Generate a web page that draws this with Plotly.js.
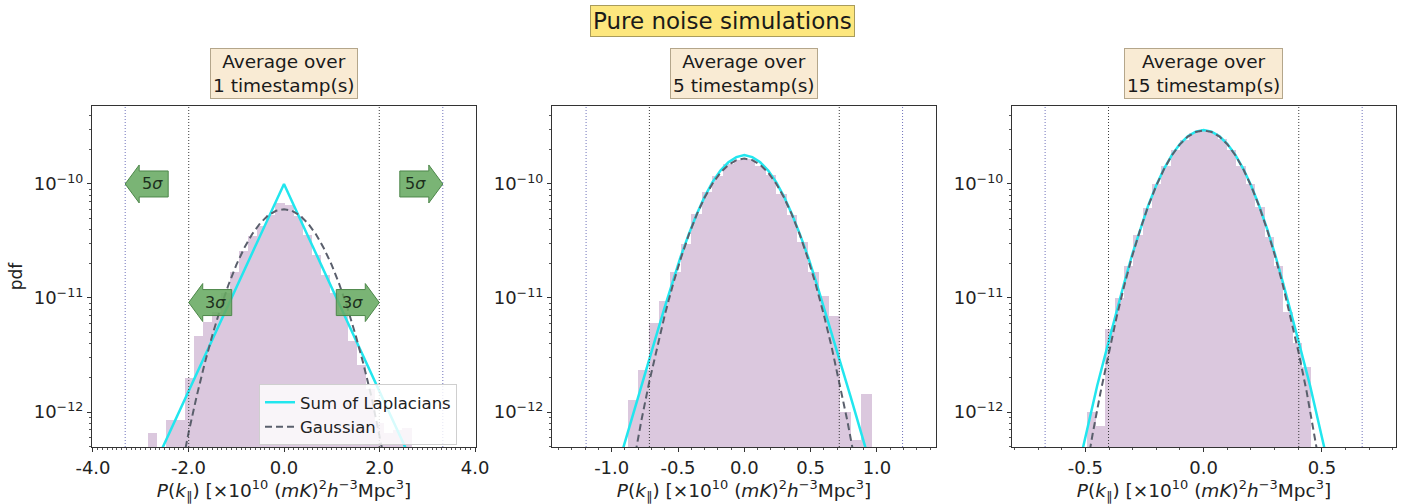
<!DOCTYPE html>
<html><head><meta charset="utf-8">
<script src="https://cdn.plot.ly/plotly-3.0.1.min.js"></script>
<style>html,body{margin:0;padding:0;background:#fff;}#chart{width:1404px;height:504px;}</style>
</head><body><div id="chart"></div>
<script>
// ---------- data ----------
const mainTitle = 'Pure noise simulations';
const panelTitles = ['Average over<br>1 timestamp(s)', 'Average over<br>5 timestamp(s)', 'Average over<br>15 timestamp(s)'];
const sigmas = [0.665, 0.2386, 0.134];          // Gaussian widths (3σ / 5σ markers)
const legendNames = ['Sum of Laplacians', 'Gaussian'];

// Panel 1 (1 timestamp)
const hist1X = [-2.745,-2.555,-2.365,-2.175,-1.985,-1.795,-1.605,-1.415,-1.225,-1.035,-0.845,-0.655,-0.465,-0.275,-0.085,0.105,0.295,0.485,0.675,0.865,1.055,1.245,1.435,1.625,1.815,2.005,2.195,2.385,2.575];
const hist1Y = [6.5e-13,null,8.5e-13,8.5e-13,2.0e-12,4.6e-12,6.2e-12,7.5e-12,1.1e-11,1.7e-11,2.6e-11,3.5e-11,4.3e-11,5.3e-11,6.8e-11,6.5e-11,5.2e-11,3.6e-11,2.4e-11,1.6e-11,1.1e-11,7.4e-12,4.2e-12,2.6e-12,1.6e-12,8.0e-13,6.5e-13,7.0e-13,7.3e-13];
const hist1W = 0.192;
const lap1X = [-2.9,-2.0,-1.0,-0.5,0,0.5,1.0,2.0,2.9];
const lap1Y = [2.3e-13,1.52e-12,1.23e-11,3.5e-11,1.0e-10,3.5e-11,1.23e-11,1.52e-12,2.3e-13];
const gau1X = [-2.328,-2.161,-1.995,-1.829,-1.663,-1.496,-1.33,-1.164,-0.998,-0.831,-0.665,-0.499,-0.333,-0.166,0,0.166,0.333,0.499,0.665,0.831,0.998,1.164,1.33,1.496,1.663,1.829,1.995,2.161,2.328];
const gau1Y = [1.31e-13,3.05e-13,6.67e-13,1.37e-12,2.64e-12,4.78e-12,8.12e-12,1.30e-11,1.95e-11,2.75e-11,3.64e-11,4.53e-11,5.30e-11,5.82e-11,6.0e-11,5.82e-11,5.30e-11,4.53e-11,3.64e-11,2.75e-11,1.95e-11,1.30e-11,8.12e-12,4.78e-12,2.64e-12,1.37e-12,6.67e-13,3.05e-13,1.31e-13];

// Panel 2 (5 timestamps)
const hist2X = [-0.84,-0.76,-0.68,-0.60,-0.52,-0.44,-0.36,-0.28,-0.20,-0.12,-0.04,0.04,0.12,0.20,0.28,0.36,0.44,0.52,0.60,0.68,0.76,0.84,0.92];
const hist2Y = [1.27e-12,2.33e-12,6.0e-12,9.5e-12,1.7e-11,3.0e-11,5.5e-11,8.5e-11,1.17e-10,1.5e-10,1.62e-10,1.64e-10,1.45e-10,1.2e-10,8.2e-11,5.3e-11,3.1e-11,1.7e-11,1.05e-11,7.0e-12,1.0e-12,5.7e-13,1.43e-12];
const hist2W = 0.081;
const lap2X = [-0.95,-0.90,-0.80,-0.72,-0.66,-0.60,-0.54,-0.48,-0.42,-0.36,-0.30,-0.24,-0.18,-0.12,-0.06,0,0.06,0.12,0.18,0.24,0.30,0.36,0.42,0.48,0.54,0.60,0.66,0.72,0.80,0.90,0.95];
const lap2Y = [3.46e-13,5.5e-13,1.38e-12,2.88e-12,4.85e-12,8.3e-12,1.4e-11,2.3e-11,3.6e-11,5.4e-11,7.7e-11,1.04e-10,1.31e-10,1.55e-10,1.72e-10,1.79e-10,1.72e-10,1.55e-10,1.31e-10,1.04e-10,7.7e-11,5.4e-11,3.6e-11,2.3e-11,1.4e-11,8.3e-12,4.85e-12,2.88e-12,1.38e-12,5.5e-13,3.46e-13];
const gau2X = [-0.8948,-0.8351,-0.7755,-0.7158,-0.6562,-0.5965,-0.5369,-0.4772,-0.4176,-0.3579,-0.2983,-0.2386,-0.179,-0.1193,-0.0597,0,0.0597,0.1193,0.179,0.2386,0.2983,0.3579,0.4176,0.4772,0.5369,0.5965,0.6562,0.7158,0.7755,0.8351,0.8948];
const gau2Y = [1.48e-13,3.65e-13,8.49e-13,1.86e-12,3.81e-12,7.34e-12,1.33e-11,2.26e-11,3.61e-11,5.42e-11,7.65e-11,1.013e-10,1.261e-10,1.474e-10,1.619e-10,1.67e-10,1.619e-10,1.474e-10,1.261e-10,1.013e-10,7.65e-11,5.42e-11,3.61e-11,2.26e-11,1.33e-11,7.34e-12,3.81e-12,1.86e-12,8.49e-13,3.65e-13,1.48e-13];

// Panel 3 (15 timestamps)
const hist3X = [-0.474,-0.435,-0.395,-0.356,-0.316,-0.277,-0.237,-0.198,-0.158,-0.119,-0.079,-0.040,0.000,0.039,0.079,0.118,0.158,0.197,0.237,0.276,0.316,0.355,0.395,0.434];
const hist3Y = [1.0e-12,7.5e-13,5.4e-12,1.0e-11,1.9e-11,3.6e-11,6.2e-11,1.0e-10,1.45e-10,2.0e-10,2.45e-10,2.8e-10,2.9e-10,2.8e-10,2.5e-10,2.0e-10,1.45e-10,1.0e-10,6.3e-11,3.4e-11,1.9e-11,7.5e-12,4.0e-12,2.5e-12];
const hist3W = 0.0412;
const lap3X = [-0.54,-0.50,-0.45,-0.402,-0.3685,-0.335,-0.3015,-0.268,-0.2345,-0.201,-0.1675,-0.134,-0.1005,-0.067,-0.0335,0,0.0335,0.067,0.1005,0.134,0.1675,0.201,0.2345,0.268,0.3015,0.335,0.3685,0.402,0.45,0.50,0.54];
const lap3Y = [2.6e-13,6.0e-13,1.7e-12,4.1e-12,7.6e-12,1.37e-11,2.42e-11,4.05e-11,6.45e-11,9.65e-11,1.36e-10,1.80e-10,2.24e-10,2.62e-10,2.88e-10,2.97e-10,2.88e-10,2.62e-10,2.24e-10,1.80e-10,1.36e-10,9.65e-11,6.45e-11,4.05e-11,2.42e-11,1.37e-11,7.6e-12,4.1e-12,1.7e-12,6.0e-13,2.6e-13];
const gau3X = [-0.536,-0.5025,-0.469,-0.4355,-0.402,-0.3685,-0.335,-0.3015,-0.268,-0.2345,-0.201,-0.1675,-0.134,-0.1005,-0.067,-0.0335,0,0.0335,0.067,0.1005,0.134,0.1675,0.201,0.2345,0.268,0.3015,0.335,0.3685,0.402,0.4355,0.469,0.5025,0.536];
const gau3Y = [9.9e-14,2.61e-13,6.45e-13,1.50e-12,3.28e-12,6.72e-12,1.296e-11,2.35e-11,3.99e-11,6.38e-11,9.58e-11,1.351e-10,1.789e-10,2.227e-10,2.603e-10,2.859e-10,2.95e-10,2.859e-10,2.603e-10,2.227e-10,1.789e-10,1.351e-10,9.58e-11,6.38e-11,3.99e-11,2.35e-11,1.296e-11,6.72e-12,3.28e-12,1.50e-12,6.45e-13,2.61e-13,9.9e-14];

// tick labels per panel
const xTickVals = [[-4,-2,0,2,4],[-1,-0.5,0,0.5,1],[-0.5,0,0.5]];
const xTickText = [['-4.0','-2.0','0.0','2.0','4.0'],['-1.0','-0.5','0.0','0.5','1.0'],['-0.5','0.0','0.5']];
const yTickVals = [1e-12,1e-11,1e-10];
const yTickText = ['10<sup>−12</sup>','10<sup>−11</sup>','10<sup>−10</sup>'];

// ---------- styling / layout ----------
const FONT = 'DejaVu Sans, Liberation Sans, sans-serif';
const HIST_C = '#dbc8de', LAP_C = '#22e6ee', GAU_C = '#5a5f6c';
const xDomains = [[92/1404, 476/1404],[552/1404, 936/1404],[1012/1404, 1396/1404]];
const xRanges = [[-4.02, 4.02],[-1.45, 1.445],[-0.81, 0.813]];
const yRange = [-12.307, -9.316];
const yDomain = [1-447/504, 1-106/504];
const xTitle = '<i>P</i>(<i>k</i><sub>∥</sub>) [×10<sup>10</sup> (<i>mK</i>)<sup>2</sup><i>h</i><sup>−3</sup>Mpc<sup>3</sup>]';

const hists = [[hist1X,hist1Y,hist1W],[hist2X,hist2Y,hist2W],[hist3X,hist3Y,hist3W]];
const laps = [[lap1X,lap1Y],[lap2X,lap2Y],[lap3X,lap3Y]];
const gaus = [[gau1X,gau1Y],[gau2X,gau2Y],[gau3X,gau3Y]];

const data = [];
for (let i = 0; i < 3; i++) {
  const xa = i === 0 ? 'x' : 'x' + (i+1), ya = i === 0 ? 'y' : 'y' + (i+1);
  data.push({type:'bar', x:hists[i][0], y:hists[i][1], width:hists[i][2], xaxis:xa, yaxis:ya,
    marker:{color:HIST_C, line:{width:0}}, showlegend:false, hoverinfo:'skip'});
  data.push({type:'scatter', mode:'lines', x:laps[i][0], y:laps[i][1], xaxis:xa, yaxis:ya,
    name:legendNames[0], showlegend:i===0, line:{color:LAP_C, width:2.5}});
  data.push({type:'scatter', mode:'lines', x:gaus[i][0], y:gaus[i][1], xaxis:xa, yaxis:ya,
    name:legendNames[1], showlegend:i===0, line:{color:GAU_C, width:2, dash:'7px,4px'}});
}

const minorY = [];
for (let e = -13; e <= -10; e++) for (let m = 2; m <= 9; m++) minorY.push(m * Math.pow(10, e));

const layout = {
  width:1404, height:504, margin:{l:0,r:0,t:0,b:0},
  paper_bgcolor:'#fff', plot_bgcolor:'#fff',
  font:{family:FONT, color:'#222', size:16},
  showlegend:true, bargap:0,
  legend:{x:259/1404, y:1-384/504, xanchor:'left', yanchor:'top', bgcolor:'rgba(255,255,255,0.82)',
    bordercolor:'#cfcfcf', borderwidth:1, font:{family:FONT, size:16.5, color:'#222'}, tracegroupgap:0},
  shapes:[], annotations:[]
};

function yPaper(logv){ return yDomain[0] + (logv - yRange[0])/(yRange[1]-yRange[0])*(yDomain[1]-yDomain[0]); }

for (let i = 0; i < 3; i++) {
  const sfx = i === 0 ? '' : String(i+1);
  layout['xaxis'+sfx] = {domain:xDomains[i], range:xRanges[i], anchor:'y'+sfx, showgrid:false, zeroline:false,
    showline:true, mirror:true, linecolor:'#333', linewidth:1.2,
    tickmode:'array', tickvals:xTickVals[i], ticktext:xTickText[i], ticks:'outside', ticklen:4, tickcolor:'#333',
    tickfont:{family:FONT, size:18, color:'#222'},
    minor:{ticks:'outside', ticklen:2, tickcolor:'#555', dtick:0.1, tick0:0},
    title:{text:xTitle, font:{family:FONT, size:18.5, color:'#222'}, standoff:3}};
  const yax = {domain:yDomain, type:'log', range:yRange, anchor:'x'+sfx, showgrid:false, zeroline:false,
    showline:true, mirror:true, linecolor:'#333', linewidth:1.2,
    tickmode:'array', tickvals:yTickVals, ticktext:yTickText, ticks:'outside', ticklen:4, tickcolor:'#333',
    tickfont:{family:FONT, size:18, color:'#222'},
    minor:{ticks:'outside', ticklen:2, tickcolor:'#555', tickmode:'array', tickvals:minorY}};
  if (i === 0) yax.title = {text:'pdf', font:{family:FONT, size:17, color:'#222'}, standoff:6};
  layout['yaxis'+sfx] = yax;

  // 3σ and 5σ markers
  const s = sigmas[i];
  [[3,'#3a3a3a'],[5,'#6f72bb']].forEach(([n,c]) => {
    [-1,1].forEach(sg => layout.shapes.push({type:'line', xref:'x'+sfx, yref:'y'+sfx+' domain',
      x0:sg*n*s, x1:sg*n*s, y0:0, y1:1, line:{color:c, width:1, dash:'1px,2px'}, layer:'above'}));
  });

  // panel title box
  layout.annotations.push({xref:'paper', yref:'paper', x:(xDomains[i][0]+xDomains[i][1])/2, y:1-73.5/504,
    xanchor:'center', yanchor:'middle', text:panelTitles[i], showarrow:false, align:'center',
    font:{family:FONT, size:18.5, color:'#1a1a1a'}, bgcolor:'#f9ebd4', bordercolor:'#b4a68b', borderwidth:1, borderpad:2});
}

// σ arrows on panel 1
function arrow(n, dir, logv){
  const L=43, H=14, bh=13, hh=19, s=-dir;
  const p = `M0,0 L${s*H},${hh} L${s*H},${bh} L${s*L},${bh} L${s*L},${-bh} L${s*H},${-bh} L${s*H},${-hh} Z`;
  const xa = dir*n*sigmas[0];
  layout.shapes.push({type:'path', xref:'x', yref:'paper', xsizemode:'pixel', ysizemode:'pixel',
    xanchor:xa, yanchor:yPaper(logv), path:p, fillcolor:'rgba(104,170,98,0.88)', line:{color:'#4d874a', width:1}, layer:'above'});
  layout.annotations.push({xref:'x', yref:'paper', x:xa, y:yPaper(logv), xshift:s*27, showarrow:false,
    text:n+'<i>σ</i>', font:{family:FONT, size:16, color:'#1d301d'}, xanchor:'center', yanchor:'middle'});
}
arrow(5,-1,-10); arrow(5,1,-10); arrow(3,-1,-11.04); arrow(3,1,-11.04);

// main title
layout.annotations.push({xref:'paper', yref:'paper', x:723/1404, y:1-21/504, xanchor:'center', yanchor:'middle',
  text:mainTitle, showarrow:false, font:{family:FONT, size:23, color:'#1a1a1a'},
  bgcolor:'#fde77e', bordercolor:'#a99c5c', borderwidth:1, borderpad:2});

Plotly.newPlot('chart', data, layout, {staticPlot:true, displayModeBar:false});
</script>
</body></html>
